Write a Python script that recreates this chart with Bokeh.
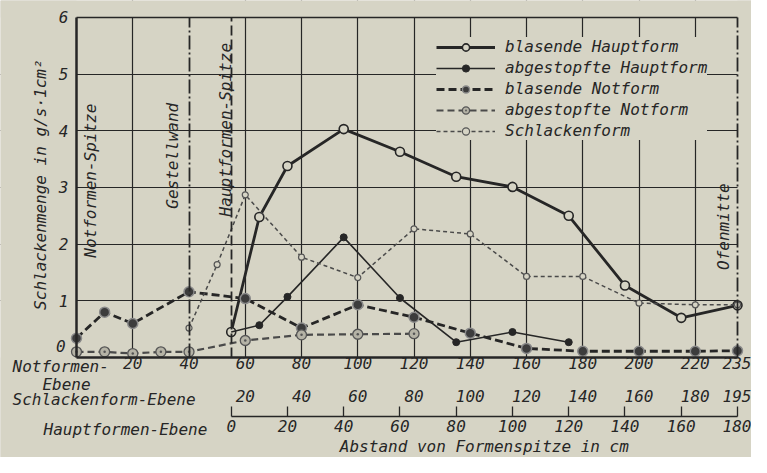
import math
from bokeh.plotting import figure
from bokeh.models import (Range1d, LinearAxis, FixedTicker, Label, Legend,
                          LegendItem, Grid, BoxAnnotation)
from bokeh.embed import file_html
from bokeh.resources import INLINE

BG = "#d6d4c5"
INK = "#262626"
GREY = "#4a4a4a"
FONT = "DejaVu Sans Mono"

# ---- data (x = Abstand von Notformen-Spitze in cm, y = Schlackenmenge) ----
bh_x = [55, 65, 75, 95, 115, 135, 155, 175, 195, 215, 235]
bh_y = [0.45, 2.48, 3.38, 4.03, 3.63, 3.19, 3.01, 2.50, 1.27, 0.70, 0.92]
ah_x = [55, 65, 75, 95, 115, 135, 155, 175]
ah_y = [0.45, 0.57, 1.07, 2.12, 1.05, 0.27, 0.45, 0.27]
bn_x = [0, 10, 20, 40, 60, 80, 100, 120, 140, 160, 180, 200, 220, 235]
bn_y = [0.34, 0.80, 0.60, 1.16, 1.04, 0.52, 0.93, 0.71, 0.43, 0.16, 0.11, 0.11, 0.11, 0.12]
an_x = [0, 10, 20, 30, 40, 60, 80, 100, 120]
an_y = [0.10, 0.10, 0.07, 0.10, 0.10, 0.30, 0.40, 0.41, 0.42]
sf_x = [40, 50, 60, 80, 100, 120, 140, 160, 180, 200, 220, 235]
sf_y = [0.52, 1.64, 2.87, 1.77, 1.41, 2.27, 2.18, 1.43, 1.43, 0.96, 0.93, 0.93]

labels = ["blasende Hauptform", "abgestopfte Hauptform", "blasende Notform",
          "abgestopfte Notform", "Schlackenform"]

not_ticks = [20, 40, 60, 80, 100, 120, 140, 160, 180, 200, 220, 235]
schl_ticks = [60, 80, 100, 120, 140, 160, 180, 200, 220, 235]
schl_labels = ["20", "40", "60", "80", "100", "120", "140", "160", "180", "195"]
haupt_ticks = [55, 75, 95, 115, 135, 155, 175, 195, 215, 235]
haupt_labels = ["0", "20", "40", "60", "80", "100", "120", "140", "160", "180"]
y_ticks = [1, 2, 3, 4, 5, 6]
vgrid = [20, 60, 80, 100, 120, 140, 160, 180, 200, 220]
hgrid = [1, 2, 3, 4, 5]
X0, X1, Y0, Y1 = 0, 235, 0, 6          # chart area
GESTELL, HAUPT_SPITZE = 40, 55          # reference lines

p = figure(width=751, height=457, output_backend="svg", toolbar_location=None,
           x_range=Range1d(-27.02, 239.98), y_range=Range1d(-1.7646, 6.2996),
           x_axis_type=None, y_axis_type=None,
           min_border_left=0, min_border_right=0, min_border_top=0, min_border_bottom=0,
           background_fill_color=BG, border_fill_color=BG)
p.outline_line_color = None

# grid, then masks outside the chart area
p.add_layout(Grid(dimension=0, ticker=FixedTicker(ticks=vgrid),
                  grid_line_color=INK, grid_line_width=1.2))
p.add_layout(Grid(dimension=1, ticker=FixedTicker(ticks=hgrid),
                  grid_line_color=INK, grid_line_width=1.2))
p.add_layout(BoxAnnotation(right=X0, fill_color=BG, fill_alpha=1, line_color=None, level="underlay"))
p.add_layout(BoxAnnotation(left=X1, fill_color=BG, fill_alpha=1, line_color=None, level="underlay"))
p.add_layout(BoxAnnotation(top=Y0, fill_color=BG, fill_alpha=1, line_color=None, level="underlay"))
p.add_layout(BoxAnnotation(bottom=Y1, fill_color=BG, fill_alpha=1, line_color=None, level="underlay"))

# series
r1 = p.line(bh_x, bh_y, line_color=INK, line_width=2.8)
m1 = p.scatter(bh_x, bh_y, size=9, marker="circle", fill_color=BG, line_color=INK, line_width=1.6)
r2 = p.line(ah_x, ah_y, line_color=INK, line_width=1.6)
m2 = p.scatter(ah_x[1:], ah_y[1:], size=7, marker="circle", fill_color=INK, line_color=INK)
r3 = p.line(bn_x, bn_y, line_color=INK, line_width=2.8, line_dash="8 4")
m3 = p.scatter(bn_x, bn_y, size=10, marker="circle", fill_color="#3c3c3c", line_color="#8a8a8a", line_width=1.5)
r4 = p.line(an_x, an_y, line_color=GREY, line_width=2.2, line_dash="7 4")
m4 = p.scatter(an_x, an_y, size=10, marker="circle_dot", fill_color="#b5b3a6", line_color="#555555", line_width=1.3)
r5 = p.line(sf_x, sf_y, line_color=GREY, line_width=1.5, line_dash="4 3")
m5 = p.scatter(sf_x, sf_y, size=6, marker="circle", fill_color=BG, line_color="#555555", line_width=1.2)

legend = Legend(items=[LegendItem(label=labels[0], renderers=[r1, m1]),
                       LegendItem(label=labels[1], renderers=[r2, m2]),
                       LegendItem(label=labels[2], renderers=[r3, m3]),
                       LegendItem(label=labels[3], renderers=[r4, m4]),
                       LegendItem(label=labels[4], renderers=[r5, m5])],
                location=(436, 317), margin=0, padding=4, spacing=2,
                glyph_width=59, glyph_height=18, label_height=18, label_standoff=10,
                background_fill_color=BG, background_fill_alpha=1, border_line_color=None,
                label_text_font=FONT, label_text_font_style="italic",
                label_text_font_size="16px", label_text_color=INK)
p.add_layout(legend, "center")

def style_axis(ax):
    ax.major_label_text_font = FONT
    ax.major_label_text_font_style = "italic"
    ax.major_label_text_font_size = "16px"
    ax.major_label_text_color = INK
    ax.minor_tick_line_color = None

def line_axis(side, loc, bounds, width, dash="solid"):
    ax = LinearAxis(ticker=FixedTicker(ticks=[]), fixed_location=loc, bounds=bounds,
                    axis_line_color=INK, axis_line_width=width, axis_line_dash=dash,
                    major_tick_line_color=None, minor_tick_line_color=None,
                    major_label_text_alpha=0)
    p.add_layout(ax, side)

# frame lines and reference lines
line_axis("above", Y1, (X0, X1), 1.5)
line_axis("right", X1, (Y0, Y1), 1.8, "14 3 2 3")
line_axis("right", GESTELL, (Y0, Y1), 1.8, "14 3 2 3")
line_axis("right", HAUPT_SPITZE, (Y0, Y1), 1.8, "10 4")

# y axis on x = 0
yax = LinearAxis(ticker=FixedTicker(ticks=y_ticks), fixed_location=X0, bounds=(Y0, Y1),
                 axis_line_color=INK, axis_line_width=2.5,
                 major_tick_line_color=None, major_tick_in=0, major_tick_out=0,
                 major_label_standoff=8)
style_axis(yax)
p.add_layout(yax, "left")

# Notformen-Ebene (also bottom edge of the chart)
ax1 = LinearAxis(ticker=FixedTicker(ticks=not_ticks), fixed_location=Y0, bounds=(X0, X1),
                 axis_line_color=INK, axis_line_width=2.4,
                 major_tick_line_color=None, major_tick_in=0, major_tick_out=0,
                 major_label_standoff=0)
style_axis(ax1)
p.add_layout(ax1, "below")

# Schlackenform-Ebene
ax2 = LinearAxis(ticker=FixedTicker(ticks=schl_ticks), fixed_location=-0.538,
                 axis_line_color=None, major_tick_line_color=None,
                 major_tick_in=0, major_tick_out=0, major_label_standoff=2,
                 major_label_overrides={t: s for t, s in zip(schl_ticks, schl_labels)})
style_axis(ax2)
p.add_layout(ax2, "below")

# Hauptformen-Ebene
ax3 = LinearAxis(ticker=FixedTicker(ticks=haupt_ticks), fixed_location=-1.041, bounds=(55, 235),
                 axis_line_color=INK, axis_line_width=1.3,
                 major_tick_line_color=INK, major_tick_line_width=1.3,
                 major_tick_in=10, major_tick_out=0, major_label_standoff=4,
                 major_label_overrides={t: s for t, s in zip(haupt_ticks, haupt_labels)})
style_axis(ax3)
p.add_layout(ax3, "below")

def txt(x, y, s, angle=0.0, align="left"):
    p.add_layout(Label(x=x, y=y, text=s, angle=angle, text_align=align, text_baseline="middle",
                       text_font=FONT, text_font_style="italic", text_font_size="16px",
                       text_color=INK))

# y-axis title and the zero of the y scale
txt(-12.8, 3.05, "Schlackenmenge in g/s·1cm²", math.pi / 2, "center")
txt(-5.6, 0.21, "0", 0.0, "center")

# in-plot annotations
txt(4.98, 3.12, "Notformen-Spitze", math.pi / 2, "center")
txt(34.1, 3.56, "Gestellwand", math.pi / 2, "center")
txt(53.0, 4.02, "Hauptformen-Spitze", math.pi / 2, "center")
txt(230.0, 2.31, "Ofenmitte", math.pi / 2, "center")

# row captions below the chart
txt(-22.75, -0.159, "Notformen-")
txt(-12.1, -0.476, "Ebene")
txt(-22.75, -0.741, "Schlackenform-Ebene")
txt(-11.7, -1.279, "Hauptformen-Ebene")
txt(145.0, -1.570, "Abstand von Formenspitze in cm", 0.0, "center")

open("out.html", "w").write(file_html(p, INLINE))
